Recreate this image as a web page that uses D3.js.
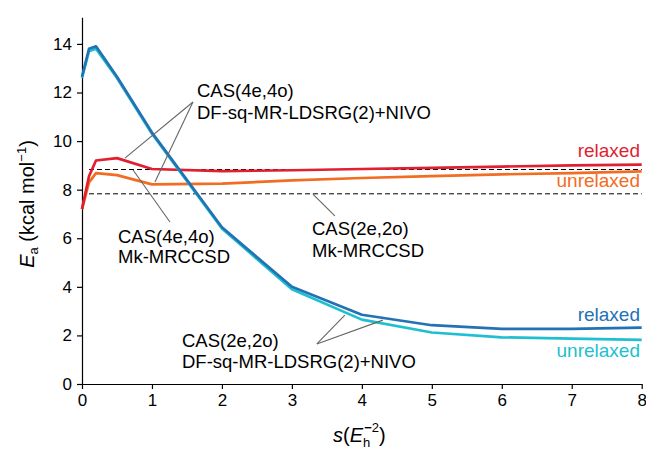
<!DOCTYPE html>
<html><head><meta charset="utf-8">
<script src="https://cdn.jsdelivr.net/npm/d3@7"></script>
<style>
body{margin:0;background:#fff;}
svg{display:block;font-family:"Liberation Sans",Arial,Helvetica,sans-serif;}
</style></head>
<body><svg id="c" width="646" height="451"></svg>
<script>
const sValues   = [0, 0.1, 0.2, 0.5, 1, 2, 3, 4, 5, 6, 7, 8];
const cas22Relaxed   = [12.65, 13.8, 13.9, 12.65, 10.35, 6.45, 4.0, 2.85, 2.42, 2.27, 2.27, 2.32];
const cas22Unrelaxed = [12.6, 13.7, 13.8, 12.6, 10.3, 6.4, 3.9, 2.65, 2.12, 1.92, 1.87, 1.82];
const cas44Relaxed   = [7.2, 8.55, 9.2, 9.3, 8.85, 8.76, 8.8, 8.85, 8.9, 8.95, 9.0, 9.03];
const cas44Unrelaxed = [7.2, 8.3, 8.68, 8.6, 8.22, 8.25, 8.38, 8.48, 8.56, 8.63, 8.68, 8.75];
const mkValues = [8.83, 7.83];
const mkRange = [0.1, 8];
const xTicks = [0,1,2,3,4,5,6,7,8];
const yTicks = [0,2,4,6,8,10,12,14];

const svg = d3.select("#c");
const x = d3.scaleLinear().domain([0,8]).range([82,641.7]);
const y = d3.scaleLinear().domain([0,15.1]).range([384,17.2]);

// axes
const xa = svg.append("g").attr("transform","translate(0,384)")
  .call(d3.axisBottom(x).tickValues(xTicks).tickSize(5).tickSizeOuter(0).tickPadding(5));
const ya = svg.append("g").attr("transform","translate(82,0)")
  .call(d3.axisLeft(y).tickValues(yTicks).tickSize(5).tickSizeOuter(0).tickPadding(5));
[xa,ya].forEach(a=>{
  a.selectAll("text").attr("font-size",17).attr("font-family","Liberation Sans, Arial, sans-serif").attr("fill","#000");
  a.selectAll("path,line").attr("stroke","#000").attr("stroke-width",1.2);
});

// dashed Mk-MRCCSD reference lines
svg.append("g").selectAll("line").data(mkValues).join("line")
  .attr("x1",x(mkRange[0])).attr("x2",x(mkRange[1]))
  .attr("y1",d=>y(d)).attr("y2",d=>y(d))
  .attr("stroke","#000").attr("stroke-width",1).attr("stroke-dasharray","5,3");

const line = d3.line().x((d,i)=>x(sValues[i])).y(d=>y(d));
const series = [
  {v:cas44Unrelaxed, c:"#f26c23"},
  {v:cas44Relaxed, c:"#e01f30"},
  {v:cas22Unrelaxed, c:"#1dbfd0"},
  {v:cas22Relaxed, c:"#2272b4"}
];
svg.append("g").selectAll("path").data(series).join("path")
  .attr("d",d=>line(d.v)).attr("fill","none").attr("stroke",d=>d.c)
  .attr("stroke-width",2.7).attr("stroke-linejoin","round");

// leader lines (data coords)
const leaders = [
  [[1.586,11.61],[0.614,9.30]],
  [[1.586,11.61],[1.043,8.32]],
  [[0.73,8.81],[1.257,6.67]],
  [[3.30,7.82],[3.614,6.92]],
  [[3.357,1.65],[3.757,2.84]],
  [[3.357,1.65],[4.30,2.63]]
];
svg.append("g").selectAll("line").data(leaders).join("line")
  .attr("x1",d=>x(d[0][0])).attr("y1",d=>y(d[0][1]))
  .attr("x2",d=>x(d[1][0])).attr("y2",d=>y(d[1][1]))
  .attr("stroke","#666").attr("stroke-width",1.1);

// annotations
const notes = [
  {x:197, y:97, lines:["CAS(4e,4o)","DF-sq-MR-LDSRG(2)+NIVO"], dy:22},
  {x:118, y:243, lines:["CAS(4e,4o)","Mk-MRCCSD"], dy:20},
  {x:312, y:235, lines:["CAS(2e,2o)","Mk-MRCCSD"], dy:22},
  {x:182, y:347, lines:["CAS(2e,2o)","DF-sq-MR-LDSRG(2)+NIVO"], dy:21}
];
notes.forEach(n=>{
  const t = svg.append("text").attr("font-size",18.5).attr("fill","#000");
  n.lines.forEach((l,i)=>t.append("tspan").attr("x",n.x).attr("y",n.y+i*n.dy).text(l));
});

const endLabels = [
  {t:"relaxed", y:157, c:"#e01f30"},
  {t:"unrelaxed", y:187, c:"#f26c23"},
  {t:"relaxed", y:321, c:"#2272b4"},
  {t:"unrelaxed", y:357, c:"#1dbfd0"}
];
svg.append("g").selectAll("text").data(endLabels).join("text")
  .attr("x",640).attr("y",d=>d.y).attr("text-anchor","end")
  .attr("font-size",19).attr("fill",d=>d.c).text(d=>d.t);

// x title
const xt = svg.append("text").attr("x",333).attr("y",442).attr("font-size",20).attr("fill","#000");
xt.append("tspan").attr("font-style","italic").text("s");
xt.append("tspan").text("(");
xt.append("tspan").attr("font-style","italic").text("E");
xt.append("tspan").attr("font-size",13).attr("dy",5).text("h");
xt.append("tspan").attr("font-size",13).attr("dx",-6).attr("dy",-15).html("<tspan font-weight='bold'>\u2212</tspan>2");
xt.append("tspan").attr("dy",10).text(")");

// y title
const yt = svg.append("text").attr("transform","translate(34,204) rotate(-90)")
  .attr("text-anchor","middle").attr("font-size",20).attr("fill","#000");
yt.append("tspan").attr("font-style","italic").text("E");
yt.append("tspan").attr("font-size",13).attr("dy",4).text("a");
yt.append("tspan").attr("dy",-4).text(" (kcal mol");
yt.append("tspan").attr("font-size",13).attr("dy",-8).text("\u22121");
yt.append("tspan").attr("dy",8).text(")");
</script></body></html>
